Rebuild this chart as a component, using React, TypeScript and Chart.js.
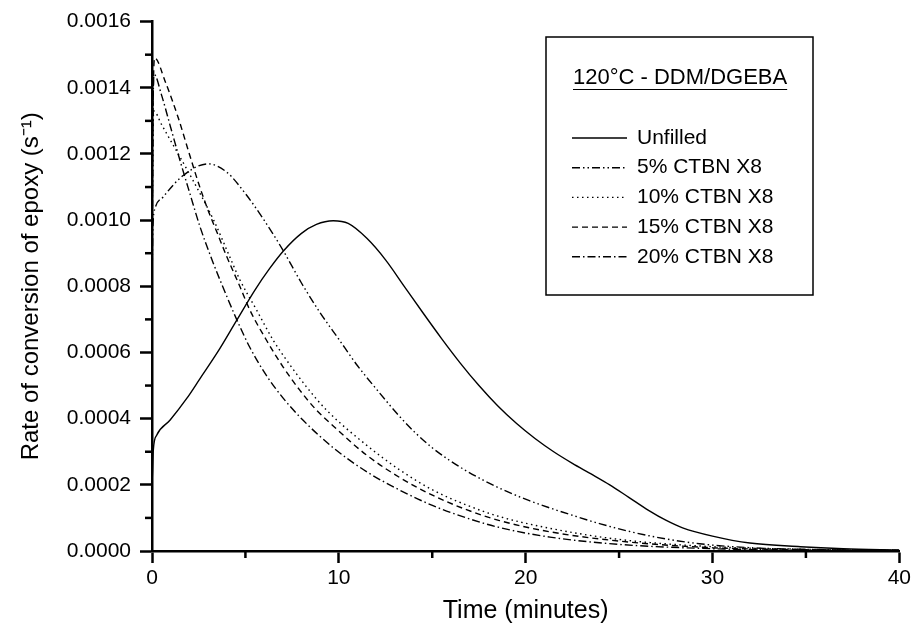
import React, { useEffect, useRef } from 'react';
import { Chart, registerables } from 'chart.js';

Chart.register(...registerables);

const FONT = '"Liberation Sans", Arial, Helvetica, sans-serif';

// ---- data (time in minutes, rate in s^-1) ----
const unfilledT = [0, 0.03, 0.07, 0.25, 0.96, 1.86, 2.57, 3.5, 4.53, 5.5, 6.3, 7.02, 8.0, 8.8, 9.7, 10.5, 11.5, 12.5, 13.5, 14.5, 15.5, 16.5, 17.5, 18.5, 19.5, 20.5, 21.5, 22.5, 23.5, 24.5, 25.5, 26.6, 27.5, 28.4, 30.0, 32.0, 34.7, 37.0, 40.0];
const unfilledV = [0.0002, 0.00024, 0.000305, 0.00035, 0.000395, 0.000461, 0.000521, 0.0006, 0.000697, 0.000788, 0.000854, 0.000906, 0.00096, 0.000987, 0.000998, 0.00099, 0.000945, 0.00088, 0.0008, 0.00072, 0.000642, 0.000568, 0.0005, 0.000439, 0.000386, 0.00034, 0.0003, 0.000265, 0.000233, 0.0002, 0.000163, 0.000122, 0.000093, 0.00007, 0.000045, 0.000024, 0.000013, 0.000007, 0.000003];

const ctbn5T = [0, 0.05, 0.16, 0.6, 1.67, 3.0, 4.0, 5.0, 6.0, 7.0, 8.0, 9.0, 10.0, 11.0, 12.0, 13.2, 14.1, 15.0, 15.9, 16.8, 17.7, 18.6, 20.2, 21.3, 22.5, 24.0, 26.6, 29.3, 32.0, 35.0, 40.0];
const ctbn5V = [0.0008, 0.00098, 0.001035, 0.00107, 0.001135, 0.00117, 0.001145, 0.00108, 0.001, 0.00091, 0.00081, 0.00072, 0.00064, 0.00056, 0.00049, 0.00041, 0.000357, 0.000312, 0.000275, 0.000243, 0.000215, 0.00019, 0.000152, 0.00013, 0.000108, 0.000082, 0.000046, 0.000022, 0.00001, 0.000005, 0.000002];

const ctbn10T = [0, 0.04, 0.1, 0.5, 1.0, 2.0, 3.3, 4.17, 4.7, 5.6, 6.49, 7.2, 8.27, 9.34, 11.48, 13.26, 15.04, 16.83, 18.6, 21.3, 25.0, 30.0, 35.0, 40.0];
const ctbn10V = [0.0008, 0.0012, 0.00133, 0.00129, 0.00124, 0.00114, 0.001, 0.000888, 0.00082, 0.000728, 0.000637, 0.000577, 0.000496, 0.000426, 0.00032, 0.000245, 0.000184, 0.000139, 0.000104, 0.0000685, 0.000035, 0.000013, 0.000005, 0.000002];

const ctbn15T = [0, 0.05, 0.15, 0.7, 1.4, 2.0, 2.5, 3.0, 3.5, 4.0, 4.7, 5.24, 6.13, 7.02, 7.91, 8.8, 9.7, 11.48, 13.26, 15.04, 16.83, 18.6, 21.3, 25.0, 30.0, 35.0, 40.0];
const ctbn15V = [0.0008, 0.0013, 0.00149, 0.00142, 0.00131, 0.0012, 0.00111, 0.00103, 0.00096, 0.00089, 0.0008, 0.000728, 0.000637, 0.000556, 0.000486, 0.000426, 0.000378, 0.00029, 0.000222, 0.000168, 0.000125, 0.000092, 0.000058, 0.00003, 0.00001, 0.000004, 0.000002];

const ctbn20T = [0, 0.05, 0.12, 0.5, 1.0, 1.5, 2.03, 2.57, 3.28, 4.0, 4.53, 5.24, 6.13, 7.02, 8.09, 9.7, 11.48, 13.26, 15.04, 16.83, 18.6, 21.3, 25.0, 30.0, 35.0, 40.0];
const ctbn20V = [0.0008, 0.0013, 0.00144, 0.00138, 0.00128, 0.00118, 0.00108, 0.00098, 0.00087, 0.00077, 0.0007, 0.000615, 0.00053, 0.000462, 0.000395, 0.000312, 0.00024, 0.000184, 0.000137, 0.0001, 0.000071, 0.000042, 0.00002, 0.000007, 0.000002, 0.000001];

const seriesLabels = ['Unfilled', '5% CTBN X8', '10% CTBN X8', '15% CTBN X8', '20% CTBN X8'];
const legendTitle = '120°C - DDM/DGEBA';
const xTitle = 'Time (minutes)';
const yTitle = 'Rate of conversion of epoxy (s⁻¹)';

const xTicks = [0, 10, 20, 30, 40];
const xMinorTicks = [5, 15, 25, 35];
const yTicks = [0, 0.0002, 0.0004, 0.0006, 0.0008, 0.001, 0.0012, 0.0014, 0.0016];
const yMinorTicks = [0.0001, 0.0003, 0.0005, 0.0007, 0.0009, 0.0011, 0.0013, 0.0015];

const dashPatterns: number[][] = [[], [8, 3, 1.5, 3, 1.5, 3], [1.5, 3.5], [6, 4], [8, 3, 1.5, 3]];

const seriesT = [unfilledT, ctbn5T, ctbn10T, ctbn15T, ctbn20T];
const seriesV = [unfilledV, ctbn5V, ctbn10V, ctbn15V, ctbn20V];

const minorTicksPlugin = {
  id: 'minorTicks',
  afterDraw(chart: any) {
    const { ctx, scales } = chart;
    const x = scales.x;
    const y = scales.y;
    ctx.save();
    ctx.strokeStyle = '#000';
    ctx.lineWidth = 2.5;
    for (const v of yMinorTicks) {
      const py = y.getPixelForValue(v);
      ctx.beginPath();
      ctx.moveTo(x.left - 7, py);
      ctx.lineTo(x.left, py);
      ctx.stroke();
    }
    for (const v of xMinorTicks) {
      const px = x.getPixelForValue(v);
      ctx.beginPath();
      ctx.moveTo(px, y.bottom);
      ctx.lineTo(px, y.bottom + 7);
      ctx.stroke();
    }
    ctx.restore();
  },
};

const legendBoxPlugin = {
  id: 'legendBox',
  afterDraw(chart: any) {
    const { ctx } = chart;
    const boxL = 546, boxT = 37, boxW = 267, boxH = 258;
    ctx.save();
    ctx.strokeStyle = '#000';
    ctx.lineWidth = 1.5;
    ctx.strokeRect(boxL, boxT, boxW, boxH);
    ctx.fillStyle = '#000';
    ctx.textBaseline = 'middle';
    ctx.textAlign = 'left';
    ctx.font = `22px ${FONT}`;
    const tx = 573;
    ctx.fillText(legendTitle, tx, 78);
    const tw = ctx.measureText(legendTitle).width;
    ctx.lineWidth = 1;
    ctx.beginPath();
    ctx.moveTo(tx, 89.5);
    ctx.lineTo(tx + tw, 89.5);
    ctx.stroke();
    ctx.font = `21px ${FONT}`;
    chart.data.datasets.forEach((ds: any, i: number) => {
      const cy = 138 + i * 29.7;
      ctx.save();
      ctx.lineWidth = 1.4;
      ctx.setLineDash(ds.borderDash || []);
      ctx.beginPath();
      ctx.moveTo(572, cy);
      ctx.lineTo(627, cy);
      ctx.stroke();
      ctx.restore();
      ctx.fillText(ds.label, 637, cy);
    });
    ctx.restore();
  },
};

export default function App() {
  const canvasRef = useRef<HTMLCanvasElement | null>(null);

  useEffect(() => {
    const canvas = canvasRef.current;
    if (!canvas) return;
    Chart.defaults.color = '#000';
    const datasets = seriesLabels.map((label, i) => ({
      label,
      data: seriesT[i].map((t, j) => ({ x: t, y: seriesV[i][j] })),
      borderColor: '#000',
      borderWidth: 1.4,
      borderDash: dashPatterns[i],
      pointRadius: 0,
      fill: false,
      cubicInterpolationMode: 'monotone' as const,
    }));
    const chart = new Chart(canvas, {
      type: 'line',
      data: { datasets },
      options: {
        animation: false,
        responsive: false,
        devicePixelRatio: 1,
        layout: { padding: { left: 0, right: 14, top: 21, bottom: 0 } },
        plugins: { legend: { display: false }, tooltip: { enabled: false } },
        scales: {
          x: {
            type: 'linear',
            min: 0,
            max: 40,
            afterBuildTicks: (s: any) => { s.ticks = xTicks.map((v) => ({ value: v })); },
            afterFit: (s: any) => { s.height = 84; },
            border: { display: true, color: '#000', width: 2.5 },
            grid: { drawOnChartArea: false, drawTicks: true, tickLength: 12, tickWidth: 2.5, tickColor: '#000' },
            ticks: { font: { family: FONT, size: 21 }, color: '#000', padding: 3, maxRotation: 0, autoSkip: false },
            title: { display: true, text: xTitle, font: { family: FONT, size: 25 }, color: '#000', padding: { top: 0, bottom: 9 } },
          },
          y: {
            type: 'linear',
            min: 0,
            max: 0.0016,
            afterBuildTicks: (s: any) => { s.ticks = yTicks.map((v) => ({ value: v })); },
            afterFit: (s: any) => { s.width = 152; },
            border: { display: true, color: '#000', width: 2.5 },
            grid: { drawOnChartArea: false, drawTicks: true, tickLength: 12, tickWidth: 2.5, tickColor: '#000' },
            ticks: {
              font: { family: FONT, size: 21 },
              color: '#000',
              padding: 9,
              autoSkip: false,
              callback: (v: any) => Number(v).toFixed(4),
            },
            title: { display: true, text: yTitle, font: { family: FONT, size: 24 }, color: '#000', padding: { top: 17, bottom: 0 } },
          },
        },
      },
      plugins: [minorTicksPlugin, legendBoxPlugin],
    });
    return () => chart.destroy();
  }, []);

  return (
    <div style={{ position: 'fixed', left: 0, top: 0, width: 914, height: 635, background: '#fff' }}>
      <canvas ref={canvasRef} width={914} height={635} style={{ display: 'block', width: 914, height: 635 }} />
    </div>
  );
}
